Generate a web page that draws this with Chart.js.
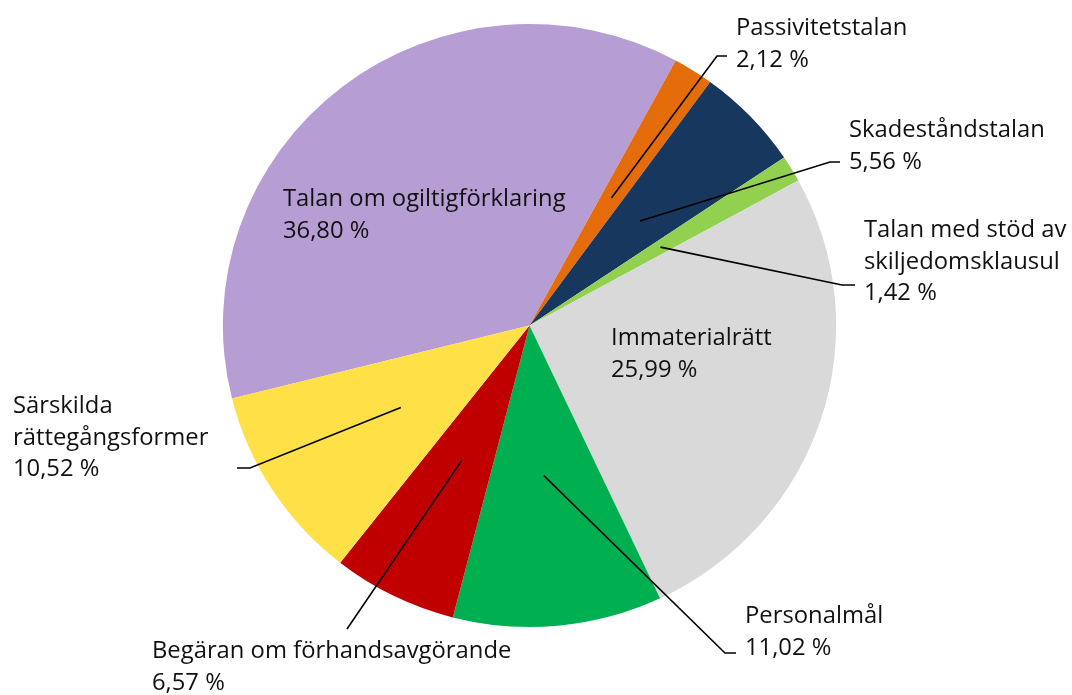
<!DOCTYPE html>
<html>
<head>
<meta charset="utf-8">
<script src="https://cdn.jsdelivr.net/npm/chart.js@4.4.1/dist/chart.umd.min.js"></script>
<style>
  html, body { margin: 0; padding: 0; background: #ffffff; }
  canvas { display: block; }
</style>
</head>
<body>
<canvas id="pieChart" width="1072" height="695"></canvas>
<script>
var categories = [
  "Talan om ogiltigförklaring",
  "Passivitetstalan",
  "Skadeståndstalan",
  ["Talan med stöd av", "skiljedomsklausul"],
  "Immaterialrätt",
  "Personalmål",
  "Begäran om förhandsavgörande",
  ["Särskilda", "rättegångsformer"],
];
var shares = [36.80, 2.12, 5.56, 1.42, 25.99, 11.02, 6.57, 10.52];

var sliceColors = [
  "#B69DD4", // lila
  "#E46C0A", // orange
  "#17375E", // marin
  "#92D050", // ljusgrön
  "#D9D9D9", // grå
  "#00B050", // grön
  "#C00000", // röd
  "#FFE047", // gul
];

// where each label sits and where its leader line bends (null = label inside slice)
var labelLayout = [
  { x: 283, y: 206, elbow: null },
  { x: 736, y: 35, elbow: [717, 56], end: [727, 56] },
  { x: 849, y: 137, elbow: [830, 162], end: [840, 162] },
  { x: 864, y: 237, elbow: [842, 285], end: [855, 285] },
  { x: 611, y: 345, elbow: null },
  { x: 745, y: 623, elbow: [725, 653], end: [736, 653] },
  { x: 152, y: 658, elbow: [347, 629], end: [347, 629] },
  { x: 13, y: 413, elbow: [250, 468], end: [237, 468] },
];

var stretchX = 1.017; // the original pie is a little wider than tall
var lineHeight = 31.7;

function formatPercent(v) {
  return v.toFixed(2).replace(".", ",") + " %";
}

var stretchPlugin = {
  id: "stretch",
  beforeDatasetsDraw: function (chart) {
    var arc = chart.getDatasetMeta(0).data[0];
    var ctx = chart.ctx;
    ctx.save();
    ctx.translate(arc.x, arc.y);
    ctx.scale(stretchX, 1);
    ctx.translate(-arc.x, -arc.y);
  },
  afterDatasetsDraw: function (chart) {
    chart.ctx.restore();
  },
};

var labelPlugin = {
  id: "sliceLabels",
  afterDraw: function (chart) {
    var ctx = chart.ctx;
    var arcs = chart.getDatasetMeta(0).data;
    ctx.save();
    arcs.forEach(function (arc, i) {
      var lay = labelLayout[i];
      if (lay.elbow) {
        var p = arc.tooltipPosition();
        var sx = arc.x + (p.x - arc.x) * stretchX;
        ctx.beginPath();
        ctx.strokeStyle = "#000000";
        ctx.lineWidth = 1.6;
        ctx.moveTo(sx, p.y);
        ctx.lineTo(lay.elbow[0], lay.elbow[1]);
        ctx.lineTo(lay.end[0], lay.end[1]);
        ctx.stroke();
      }
      var lines = [].concat(categories[i]);
      lines.push(formatPercent(shares[i]));
      ctx.fillStyle = "#111111";
      ctx.font = "23.8px 'Open Sans'";
      ctx.textAlign = "left";
      ctx.textBaseline = "alphabetic";
      lines.forEach(function (t, k) {
        ctx.fillText(t, lay.x, lay.y + k * lineHeight);
      });
    });
    ctx.restore();
  },
};

new Chart(document.getElementById("pieChart"), {
  type: "pie",
  data: {
    labels: categories,
    datasets: [
      {
        data: shares,
        backgroundColor: sliceColors,
        borderWidth: 0,
        hoverOffset: 0,
        offset: 0,
        radius: 301.5,
      },
    ],
  },
  options: {
    responsive: false,
    animation: false,
    events: [],
    rotation: -104,
    layout: {
      padding: { left: 228, right: 241, top: 24, bottom: 68 },
    },
    plugins: {
      legend: { display: false },
      tooltip: { enabled: false },
    },
  },
  plugins: [stretchPlugin, labelPlugin],
});
</script>
</body>
</html>
